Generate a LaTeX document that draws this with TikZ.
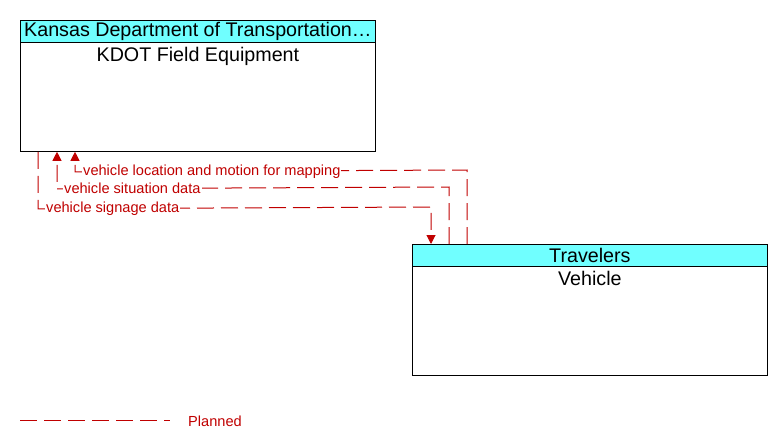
\documentclass[tikz,border=0pt]{standalone}
\usepackage{fontspec}
\setmainfont{Liberation Sans}
\usetikzlibrary{arrows.meta,calc}
\definecolor{flowred}{RGB}{192,0,0}
\definecolor{hdrcyan}{RGB}{112,255,255}
\tikzset{
  boxbody/.style={draw=black,line width=0.8pt,fill=white,minimum width=355pt,minimum height=131pt,anchor=north west,inner sep=0pt},
  boxhdr/.style={draw=black,line width=0.8pt,fill=hdrcyan,minimum width=355pt,minimum height=22pt,anchor=north,inner sep=0pt,font=\fontsize{19.7}{21}\selectfont},
  boxtitle/.style={anchor=north,inner sep=0pt,font=\fontsize{19.7}{21}\selectfont},
  flow/.style={draw=flowred,line width=1pt,dash pattern=on 17pt off 7pt},
  flowlbl/.style={anchor=west,fill=white,inner sep=1pt,text=flowred,font=\fontsize{14.6}{16}\selectfont},
  tip/.style={-{Triangle[length=9pt,width=9pt]}}
}
\begin{document}
\begin{tikzpicture}[x=1pt,y=-1pt]
\useasboundingbox (0,0) rectangle (782,447);
% boxes
\node[boxbody] (kdot) at (20,20) {};
\node[boxhdr] (kdoth) at (kdot.north) {Kansas Department of Transportation\ldots};
\node[boxtitle] (kdott) at ($(kdoth.south)+(0,4)$) {KDOT Field Equipment};
\node[boxbody] (veh) at (412,244) {};
\node[boxhdr] (vehh) at (veh.north) {Travelers};
\node[boxtitle] (veht) at ($(vehh.south)+(0,4)$) {Vehicle};
% flows
\draw[flow,tip] ($(veh.north west)+(55,0)$) -- ($(veh.north west)+(55,-74)$) -- ($(kdot.south west)+(55,20)$) -- ($(kdot.south west)+(55,0)$);
\draw[flow,tip] ($(veh.north west)+(37,0)$) -- ($(veh.north west)+(37,-57)$) -- ($(kdot.south west)+(37,37)$) -- ($(kdot.south west)+(37,0)$);
\draw[flow,tip] ($(kdot.south west)+(18,0)$) -- ($(kdot.south west)+(18,57)$) -- ($(veh.north west)+(19,-37)$) -- ($(veh.north west)+(19,0)$);
\node[flowlbl] (l1) at (82,171.5) {vehicle location and motion for mapping};
\node[flowlbl] (l2) at (63,188.5) {vehicle situation data};
\node[flowlbl] (l3) at (45,208.5) {vehicle signage data};
% legend
\coordinate (lg1) at (20,420);
\coordinate (lg2) at (170,420);
\draw[flow] (lg1) -- (lg2);
\node[anchor=west,inner sep=0pt,text=flowred,font=\fontsize{14.6}{16}\selectfont] (lgt) at (188,421) {Planned};
\end{tikzpicture}
\end{document}
